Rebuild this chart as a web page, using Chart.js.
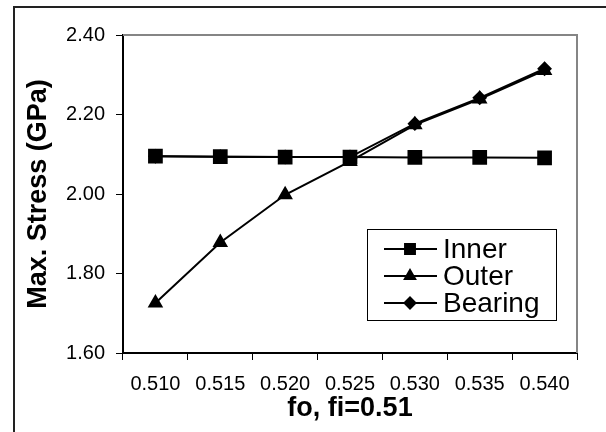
<!DOCTYPE html>
<html>
<head>
<meta charset="utf-8">
<script src="https://cdn.jsdelivr.net/npm/chart.js"></script>
<style>
  html, body { margin: 0; padding: 0; background: #fff; overflow: hidden; }
  #wrap { position: relative; width: 606px; height: 432px; }
  #frame { position: absolute; left: 13px; top: 6px; width: 640px; height: 480px; border: 2px solid #222; box-sizing: border-box; pointer-events: none; }
  canvas { position: absolute; left: 0; top: 0; }
</style>
</head>
<body>
<div id="wrap">
  <canvas id="stress" width="606" height="432"></canvas>
  <div id="frame"></div>
</div>
<script>
const foLabels = ['0.510', '0.515', '0.520', '0.525', '0.530', '0.535', '0.540'];
const innerStress = [2.095, 2.094, 2.093, 2.093, 2.092, 2.092, 2.091];
const outerStress = [1.726, 1.878, 1.998, 2.082, 2.174, 2.239, 2.311];
const bearingStress = [2.095, 2.094, 2.093, 2.093, 2.177, 2.242, 2.315];
const yTicks = [1.60, 1.80, 2.00, 2.20, 2.40];

const fontName = "'Liberation Sans', Arial, sans-serif";

// grey top/right border of the plot area, like the spreadsheet frame
const plotBorder = {
    id: 'plotBorder',
    afterDraw(chart) {
        const a = chart.chartArea, c = chart.ctx;
        c.save();
        c.strokeStyle = '#858585';
        c.lineWidth = 2;
        c.beginPath();
        c.moveTo(a.left, a.top);
        c.lineTo(a.right, a.top);
        c.lineTo(a.right, a.bottom);
        c.stroke();
        c.restore();
    }
};

// boxed legend sitting inside the plot
const boxLegend = {
    id: 'boxLegend',
    afterDraw(chart) {
        const c = chart.ctx;
        const bx = 367, by = 229, bw = 189, bh = 91;
        c.save();
        c.fillStyle = '#fff';
        c.fillRect(bx, by, bw, bh);
        c.strokeStyle = '#000';
        c.lineWidth = 1;
        c.strokeRect(bx + 0.5, by + 0.5, bw, bh);
        c.font = '28px ' + fontName;
        c.textBaseline = 'middle';
        c.textAlign = 'left';
        chart.data.datasets.forEach((ds, i) => {
            const y = by + 20 + i * 27;
            c.strokeStyle = '#000';
            c.lineWidth = 2;
            c.beginPath();
            c.moveTo(384, y);
            c.lineTo(437, y);
            c.stroke();
            c.fillStyle = '#000';
            Chart.helpers.drawPoint(c, {pointStyle: ds.pointStyle, radius: ds.legendRadius, rotation: 0, borderWidth: 1}, 410, y);
            c.fillStyle = '#000';
            c.fillText(ds.label, 443, y + 1);
        });
        c.restore();
    }
};

new Chart(document.getElementById('stress'), {
    type: 'line',
    data: {
        labels: foLabels,
        datasets: [{
            label: 'Inner',
            data: innerStress,
            pointStyle: 'rect',
            pointRadius: 9,
            legendRadius: 7,
            borderColor: '#000',
            backgroundColor: '#000',
            borderWidth: 2,
            tension: 0
        }, {
            label: 'Outer',
            data: outerStress,
            pointStyle: 'triangle',
            pointRadius: 7,
            legendRadius: 6,
            borderColor: '#000',
            backgroundColor: '#000',
            borderWidth: 2,
            tension: 0
        }, {
            label: 'Bearing',
            data: bearingStress,
            pointStyle: 'rectRot',
            pointRadius: 6,
            legendRadius: 5.5,
            borderColor: '#000',
            backgroundColor: '#000',
            borderWidth: 2,
            tension: 0
        }]
    },
    options: {
        responsive: false,
        animation: false,
        layout: { padding: { top: 35, right: 29, left: 0, bottom: 0 } },
        plugins: {
            legend: { display: false },
            tooltip: { enabled: false }
        },
        scales: {
            x: {
                offset: true,
                grid: { offset: true, drawOnChartArea: false, color: '#000', tickLength: 7, lineWidth: 1 },
                border: { color: '#000', width: 2 },
                ticks: { color: '#000', font: { family: fontName, size: 20 }, padding: 12, maxRotation: 0 },
                title: { display: true, text: 'fo, fi=0.51', color: '#000', font: { family: fontName, size: 27, weight: 'bold' }, padding: { top: 0, bottom: 7 } },
                afterFit(s) { s.height = 432 - 353; }
            },
            y: {
                min: 1.6,
                max: 2.4,
                afterBuildTicks(s) { s.ticks = yTicks.map(v => ({ value: v })); },
                grid: { drawOnChartArea: false, color: '#000', tickLength: 7, lineWidth: 1 },
                border: { color: '#000', width: 2 },
                ticks: { color: '#000', font: { family: fontName, size: 20 }, padding: 11, callback: v => v.toFixed(2) },
                title: { display: true, text: 'Max. Stress (GPa)', color: '#000', font: { family: fontName, size: 27, weight: 'bold' }, padding: { top: 22, bottom: 0 } },
                afterFit(s) { s.width = 123; }
            }
        }
    },
    plugins: [plotBorder, boxLegend]
});
</script>
</body>
</html>
